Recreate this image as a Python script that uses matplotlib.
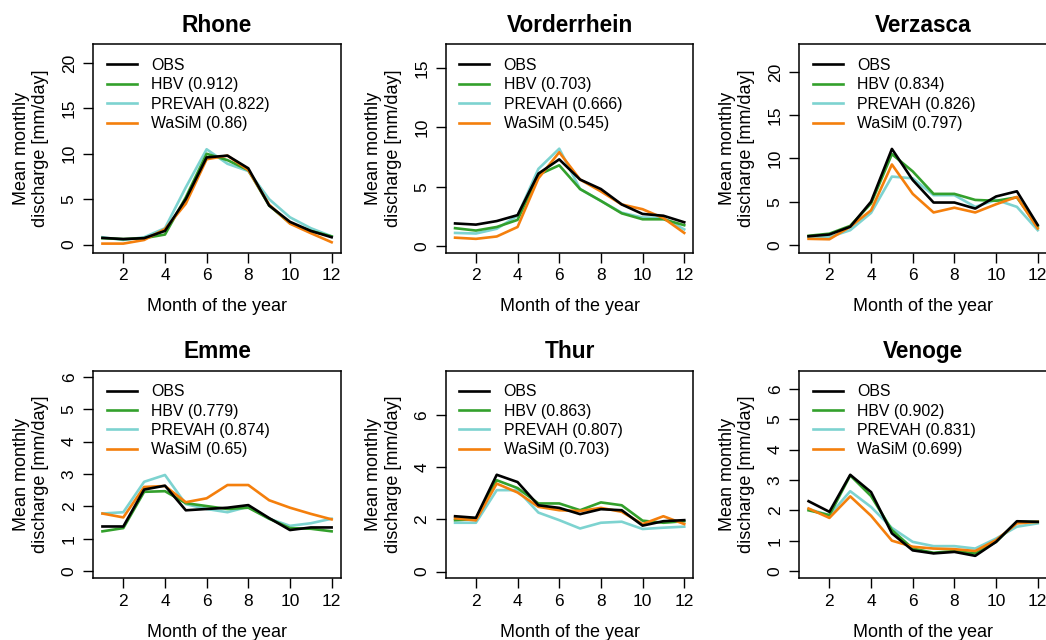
import matplotlib
matplotlib.use("Agg")
import matplotlib.pyplot as plt
import numpy as np

plt.rcParams['font.family'] = ['Liberation Sans', 'DejaVu Sans']

months = list(range(1, 13))
catchments = ["Rhone", "Vorderrhein", "Verzasca", "Emme", "Thur", "Venoge"]
models = ["OBS", "HBV", "PREVAH", "WaSiM"]
colors = {"OBS": "#000000", "HBV": "#33a02c", "PREVAH": "#7dd3d0", "WaSiM": "#f47f0c"}
draw_order = ["PREVAH", "HBV", "WaSiM", "OBS"]

nse = {
    "Rhone": {"HBV": "0.912", "PREVAH": "0.822", "WaSiM": "0.86"},
    "Vorderrhein": {"HBV": "0.703", "PREVAH": "0.666", "WaSiM": "0.545"},
    "Verzasca": {"HBV": "0.834", "PREVAH": "0.826", "WaSiM": "0.797"},
    "Emme": {"HBV": "0.779", "PREVAH": "0.874", "WaSiM": "0.65"},
    "Thur": {"HBV": "0.863", "PREVAH": "0.807", "WaSiM": "0.703"},
    "Venoge": {"HBV": "0.902", "PREVAH": "0.831", "WaSiM": "0.699"},
}

rhone_obs = [0.73, 0.6, 0.7, 1.5, 5.0, 9.6, 9.8, 8.4, 4.3, 2.5, 1.5, 0.8]
rhone_hbv = [0.7, 0.6, 0.7, 1.1, 5.2, 10.0, 9.3, 8.2, 4.3, 2.35, 1.5, 0.9]
rhone_prevah = [0.8, 0.5, 0.8, 1.8, 6.3, 10.5, 8.9, 8.1, 5.0, 3.0, 1.8, 0.9]
rhone_wasim = [0.1, 0.1, 0.5, 1.7, 4.5, 9.4, 9.8, 8.2, 4.4, 2.3, 1.25, 0.25]

vord_obs = [1.9, 1.8, 2.1, 2.6, 6.1, 7.3, 5.6, 4.8, 3.5, 2.7, 2.55, 2.0]
vord_hbv = [1.5, 1.3, 1.6, 2.2, 6.0, 6.8, 4.8, 3.8, 2.75, 2.25, 2.25, 1.75]
vord_prevah = [1.1, 1.05, 1.45, 2.55, 6.5, 8.2, 4.8, 3.8, 2.8, 2.4, 2.35, 1.4]
vord_wasim = [0.7, 0.6, 0.8, 1.6, 5.7, 7.9, 5.6, 4.6, 3.5, 3.1, 2.35, 1.1]

verz_obs = [1.0, 1.2, 2.1, 5.0, 11.1, 7.5, 4.9, 4.9, 4.2, 5.6, 6.2, 2.3]
verz_hbv = [1.05, 1.3, 2.2, 4.8, 10.5, 8.5, 5.9, 5.9, 5.2, 5.1, 5.5, 2.1]
verz_prevah = [0.9, 0.9, 1.7, 3.7, 7.9, 7.7, 5.75, 5.75, 4.4, 5.2, 4.4, 1.7]
verz_wasim = [0.7, 0.65, 2.1, 4.0, 9.3, 5.9, 3.75, 4.3, 3.75, 4.7, 5.55, 1.9]

emme_obs = [1.38, 1.38, 2.52, 2.64, 1.88, 1.92, 1.96, 2.04, 1.64, 1.27, 1.35, 1.35]
emme_hbv = [1.23, 1.33, 2.45, 2.47, 2.1, 2.01, 1.92, 1.96, 1.62, 1.33, 1.31, 1.23]
emme_prevah = [1.78, 1.82, 2.76, 2.97, 2.07, 1.92, 1.82, 1.99, 1.62, 1.4, 1.48, 1.62]
emme_wasim = [1.78, 1.66, 2.6, 2.63, 2.13, 2.25, 2.66, 2.66, 2.19, 1.96, 1.77, 1.6]

thur_obs = [2.12, 2.06, 3.71, 3.43, 2.54, 2.44, 2.2, 2.39, 2.35, 1.76, 1.93, 1.97]
thur_hbv = [1.97, 2.01, 3.5, 3.2, 2.61, 2.61, 2.35, 2.65, 2.54, 1.95, 1.87, 1.93]
thur_prevah = [1.87, 1.87, 3.12, 3.12, 2.26, 1.97, 1.65, 1.87, 1.91, 1.63, 1.68, 1.72]
thur_wasim = [2.04, 1.96, 3.37, 3.03, 2.48, 2.35, 2.32, 2.44, 2.29, 1.82, 2.12, 1.82]

veno_obs = [2.3, 1.95, 3.17, 2.6, 1.24, 0.68, 0.58, 0.63, 0.5, 0.96, 1.64, 1.62]
veno_hbv = [2.0, 1.84, 3.15, 2.47, 1.35, 0.74, 0.6, 0.66, 0.58, 0.96, 1.62, 1.62]
veno_prevah = [2.04, 1.84, 2.63, 2.11, 1.42, 0.96, 0.82, 0.82, 0.74, 1.07, 1.46, 1.57]
veno_wasim = [2.06, 1.75, 2.46, 1.82, 1.0, 0.8, 0.74, 0.72, 0.66, 1.02, 1.57, 1.62]

data = {
    "Rhone": {"OBS": rhone_obs, "HBV": rhone_hbv, "PREVAH": rhone_prevah, "WaSiM": rhone_wasim},
    "Vorderrhein": {"OBS": vord_obs, "HBV": vord_hbv, "PREVAH": vord_prevah, "WaSiM": vord_wasim},
    "Verzasca": {"OBS": verz_obs, "HBV": verz_hbv, "PREVAH": verz_prevah, "WaSiM": verz_wasim},
    "Emme": {"OBS": emme_obs, "HBV": emme_hbv, "PREVAH": emme_prevah, "WaSiM": emme_wasim},
    "Thur": {"OBS": thur_obs, "HBV": thur_hbv, "PREVAH": thur_prevah, "WaSiM": thur_wasim},
    "Venoge": {"OBS": veno_obs, "HBV": veno_hbv, "PREVAH": veno_prevah, "WaSiM": veno_wasim},
}

yticks = {
    "Rhone": [0, 5, 10, 15, 20],
    "Vorderrhein": [0, 5, 10, 15],
    "Verzasca": [0, 5, 10, 15, 20],
    "Emme": [0, 1, 2, 3, 4, 5, 6],
    "Thur": [0, 2, 4, 6],
    "Venoge": [0, 1, 2, 3, 4, 5, 6],
}
ylims = {
    "Rhone": (-0.88, 22.07),
    "Vorderrhein": (-0.55, 17.0),
    "Verzasca": (-0.88, 23.2),
    "Emme": (-0.22, 6.19),
    "Thur": (-0.26, 7.7),
    "Venoge": (-0.24, 6.6),
}
xticks = [2, 4, 6, 8, 10, 12]

W, H = 1046, 640
fig = plt.figure(figsize=(W / 100, H / 100), dpi=100)

lefts = [93.3, 445.9, 799.4]
width = 247.5
rows = [(44.3, 252.5), (370.7, 578.3)]

for i, name in enumerate(catchments):
    r, c = divmod(i, 3)
    top, bot = rows[r]
    ax = fig.add_axes([lefts[c] / W, 1 - bot / H, width / W, (bot - top) / H])
    handles = {}
    for m in draw_order:
        lab = m if m == "OBS" else f"{m} ({nse[name][m]})"
        ln, = ax.plot(months, data[name][m], color=colors[m], lw=1.9, label=lab,
                      solid_joinstyle='round')
        handles[m] = ln
    ax.set_xlim(0.56, 12.44)
    ax.set_ylim(*ylims[name])
    ax.set_xticks(xticks)
    ax.set_yticks(yticks[name])
    ax.tick_params(direction='out', length=7, width=1, labelsize=12.5, pad=4, color='black')
    ax.tick_params(axis='y', pad=5)
    for lab in ax.get_yticklabels():
        lab.set_rotation(90)
        lab.set_va('center')
    for s in ax.spines.values():
        s.set_linewidth(1.1)
    ax.set_title(name, fontsize=16.3, fontweight='bold', pad=9)
    ax.set_xlabel("Month of the year", fontsize=13, labelpad=11)
    ax.set_ylabel("Mean monthly\ndischarge [mm/day]", fontsize=13, labelpad=9, linespacing=1.2)
    ax.legend([handles[m] for m in models], [handles[m].get_label() for m in models],
              loc='upper left', frameon=False, fontsize=11.4, handlelength=1.9,
              handletextpad=0.9, labelspacing=0.28, borderaxespad=0.5, borderpad=0.35)

fig.savefig("out.png", dpi=100)
